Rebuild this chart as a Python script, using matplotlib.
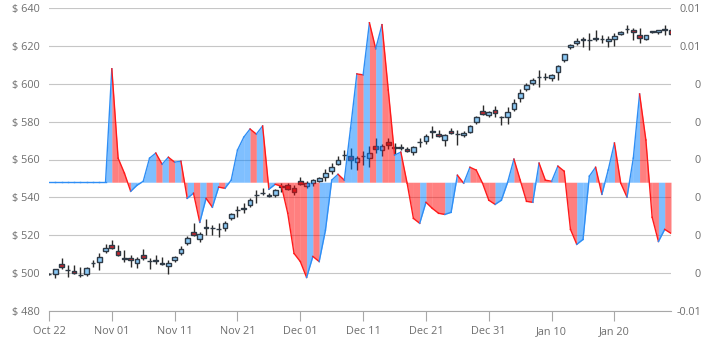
import matplotlib
matplotlib.use('Agg')
import numpy as np
import pandas as pd
import matplotlib.pyplot as plt
import matplotlib.dates as mdates

plt.rcParams['font.family'] = ['Open Sans', 'DejaVu Sans']

# daily candles, Oct 22 .. Jan 29
dates = pd.date_range('2014-10-22', periods=100, freq='D')

opens = [499.6, 499.6, 505.0, 501.8, 501.0, 499.2, 499.8, 505.4, 506.0, 511.7,
         514.7, 511.7, 507.9, 508.0, 505.5, 509.5, 506.5, 506.7, 505.3, 503.7,
         506.9, 510.4, 516.1, 521.7, 518.2, 524.1, 523.8, 523.5, 524.0, 528.9,
         533.3, 534.0, 535.9, 541.2, 542.1, 541.1, 541.2, 545.6, 546.6, 545.2,
         548.4, 546.1, 547.5, 548.9, 550.7, 554.0, 557.8, 562.4, 561.6, 558.7,
         562.0, 561.0, 567.0, 565.2, 569.2, 566.3, 566.4, 565.5, 563.7, 569.3,
         569.6, 574.6, 573.6, 570.4, 575.2, 573.4, 572.7, 574.7, 579.7, 585.5,
         583.3, 586.4, 582.4, 582.5, 586.8, 592.5, 597.3, 600.4, 603.5, 603.8,
         602.8, 606.3, 612.6, 619.2, 621.4, 623.3, 622.9, 623.4, 623.5, 622.5,
         623.6, 626.1, 628.7, 628.3, 625.5, 623.6, 627.5, 627.2, 628.5, 628.3]
highs = [500.2, 502.4, 507.8, 504.2, 504.2, 503.3, 503.0, 506.9, 510.8, 515.4,
         517.5, 514.7, 512.2, 509.5, 508.6, 512.6, 507.8, 509.5, 508.6, 506.9,
         509.0, 514.5, 519.5, 526.3, 521.5, 528.5, 525.4, 526.3, 527.4, 531.5,
         535.5, 537.0, 539.5, 544.0, 544.9, 542.5, 544.5, 547.5, 547.5, 546.6,
         550.7, 548.5, 549.8, 551.0, 554.9, 558.4, 561.6, 564.8, 566.0, 562.0,
         564.3, 567.0, 571.4, 568.4, 571.4, 568.7, 568.0, 566.5, 567.0, 571.4,
         573.5, 577.6, 575.5, 573.5, 576.5, 575.8, 575.0, 578.0, 583.0, 589.0,
         585.5, 588.1, 582.8, 587.8, 591.7, 597.0, 600.2, 603.0, 607.1, 605.5,
         605.0, 609.7, 615.8, 621.0, 624.3, 624.8, 626.6, 628.3, 625.5, 625.0,
         627.0, 628.0, 631.0, 629.6, 629.2, 626.0, 628.0, 628.5, 630.8, 629.5]
lows = [499.0, 497.3, 502.0, 498.0, 499.3, 497.7, 498.6, 503.3, 501.6, 510.8,
        512.5, 509.0, 506.0, 503.3, 502.5, 506.9, 502.0, 504.8, 504.2, 499.5,
        506.0, 509.6, 515.0, 519.5, 516.5, 520.1, 520.1, 518.9, 522.3, 528.0,
        529.8, 531.5, 535.0, 536.9, 541.3, 540.0, 540.0, 543.1, 543.8, 541.3,
        546.6, 545.0, 546.2, 548.0, 548.4, 552.5, 557.2, 559.8, 554.9, 554.3,
        557.2, 556.3, 563.4, 561.8, 565.5, 563.0, 564.8, 563.8, 562.4, 566.4,
        568.0, 571.4, 572.0, 566.9, 573.5, 567.8, 572.0, 574.0, 578.5, 583.5,
        582.5, 582.5, 578.4, 579.0, 585.5, 590.2, 596.0, 599.5, 598.3, 602.0,
        601.5, 601.9, 611.5, 618.5, 620.7, 619.5, 617.7, 622.5, 621.5, 619.5,
        620.0, 625.5, 627.0, 623.0, 621.3, 623.0, 627.0, 626.5, 626.0, 625.5]
closes = [499.4, 502.2, 503.4, 501.5, 499.9, 498.9, 502.5, 505.6, 508.6, 513.1,
          513.2, 509.5, 507.7, 506.9, 507.4, 507.8, 506.3, 506.5, 504.9, 505.1,
          508.3, 512.9, 518.4, 520.1, 520.5, 523.9, 523.6, 523.3, 526.5, 531.2,
          533.5, 534.5, 538.7, 541.4, 542.3, 540.9, 543.7, 545.8, 544.5, 543.1,
          547.2, 547.5, 549.3, 550.2, 552.8, 556.3, 559.5, 562.6, 559.9, 560.8,
          561.6, 563.5, 565.5, 567.0, 567.5, 566.5, 566.3, 564.3, 566.4, 569.5,
          572.4, 574.8, 572.2, 573.1, 574.0, 573.6, 574.2, 577.5, 582.6, 584.2,
          585.0, 584.3, 582.6, 585.1, 590.0, 595.2, 599.5, 602.2, 603.8, 603.5,
          604.6, 609.4, 615.6, 620.6, 622.7, 623.5, 623.1, 624.3, 623.7, 623.5,
          625.3, 627.5, 628.9, 627.1, 624.1, 625.5, 627.6, 628.2, 629.0, 626.1]

# indicator shown as the area series (right axis)
momentum = [0, 0, 0, 0, 0, 0, 0, 0, 0, 0,
            0.00599, 0.00127, 0.00048, -0.00048, -0.00016, 0.00005, 0.00127, 0.00154, 0.00095, 0.00132,
            0.00106, 0.00111, -0.00085, -0.00058, -0.00212, -0.00085, -0.00132, -0.00026, -0.00032, 0.00011,
            0.00170, 0.00238, 0.00281, 0.00254, 0.00297, -0.00037, -0.00011, -0.00021, -0.00164, -0.00376,
            -0.00419, -0.00503, -0.00392, -0.00419, -0.00254, 0.00011, 0.00042, 0.00011, 0.00286, 0.00572,
            0.00567, 0.00842, 0.00705, 0.00832, 0.00487, 0.00143, 0.00159, -0.00005, -0.00191, -0.00217,
            -0.00106, -0.00138, -0.00164, -0.00170, -0.00159, 0.00037, -0.00005, 0.00079, 0.00064, -0.00005,
            -0.00095, -0.00117, -0.00095, 0.00000, 0.00122, 0.00011, -0.00101, -0.00106, 0.00101, 0.00011,
            0.00005, 0.00085, 0.00058, -0.00249, -0.00328, -0.00302, 0.00032, 0.00079, -0.00064, 0.00064,
            0.00207, -0.00005, -0.00079, 0.00127, 0.00466, 0.00223, -0.00185, -0.00313, -0.00249, -0.00270]

price_ticks = [480, 500, 520, 540, 560, 580, 600, 620, 640]
right_labels = ['-0.01', '0', '0', '0', '0', '0', '0', '0.01', '0.01']

fig = plt.figure(figsize=(7.2, 3.55), dpi=100)
ax = fig.add_axes([49 / 720, 44 / 355, 622 / 720, 303 / 355])

x = mdates.date2num(dates)
o = np.array(opens)
c = np.array(closes)
up = c >= o
bottom = np.minimum(o, c)
height = np.maximum(np.abs(c - o), 0.15)

ax.vlines(x, lows, highs, color='#2b2b2b', lw=1, zorder=2)
ax.bar(x[up], height[up], width=0.75, bottom=bottom[up], color='#8ccaf7',
       edgecolor='#2e3a46', lw=1, zorder=3)
ax.bar(x[~up], height[~up], width=0.75, bottom=bottom[~up], color='#c8262c',
       edgecolor='#2e3a46', lw=1, zorder=3)

ax.set_ylim(480, 640)
ax.set_yticks(price_ticks)
ax.set_yticklabels(['$ %d' % t for t in price_ticks])
ax.set_xlim(x[0], x[-1])
ax.set_xticks(x[::10])
ax.xaxis.set_major_formatter(mdates.DateFormatter('%b %d'))
ax.yaxis.grid(True, color='#c6c6c6', lw=0.8)
ax.set_axisbelow(True)
for s in ['top', 'right', 'left']:
    ax.spines[s].set_visible(False)
ax.spines['bottom'].set_color('#a8a8a8')
ax.tick_params(axis='x', length=7, color='#a8a8a8', pad=4, labelsize=7.8, labelcolor='#6e6e6e')
ax.tick_params(axis='y', length=0, pad=6.5, labelsize=7.8, labelcolor='#6e6e6e')

# area series, coloured per segment: rising blue, falling red
ax2 = ax.twinx()
m = np.array(momentum)
for i in range(len(m) - 1):
    rising = m[i + 1] >= m[i]
    fill_col = '#0080ff' if rising else '#ff0000'
    line_col = '#2e8ef5' if rising else '#ff1a1a'
    ax2.fill_between(x[i:i + 2], m[i:i + 2], 0, color=fill_col, alpha=0.5, lw=0)
    ax2.plot(x[i:i + 2], m[i:i + 2], color=line_col, lw=1)

ax2.set_ylim(-0.0068, 0.0092)
ax2.set_yticks(np.linspace(-0.0068, 0.0092, 9))
ax2.set_yticklabels(right_labels)
for s in ax2.spines.values():
    s.set_visible(False)
ax2.tick_params(axis='y', length=0, pad=21.6, labelsize=7.8, labelcolor='#6e6e6e')
for lab in ax2.get_yticklabels():
    lab.set_horizontalalignment('right')

fig.savefig('out.png', dpi=100)
